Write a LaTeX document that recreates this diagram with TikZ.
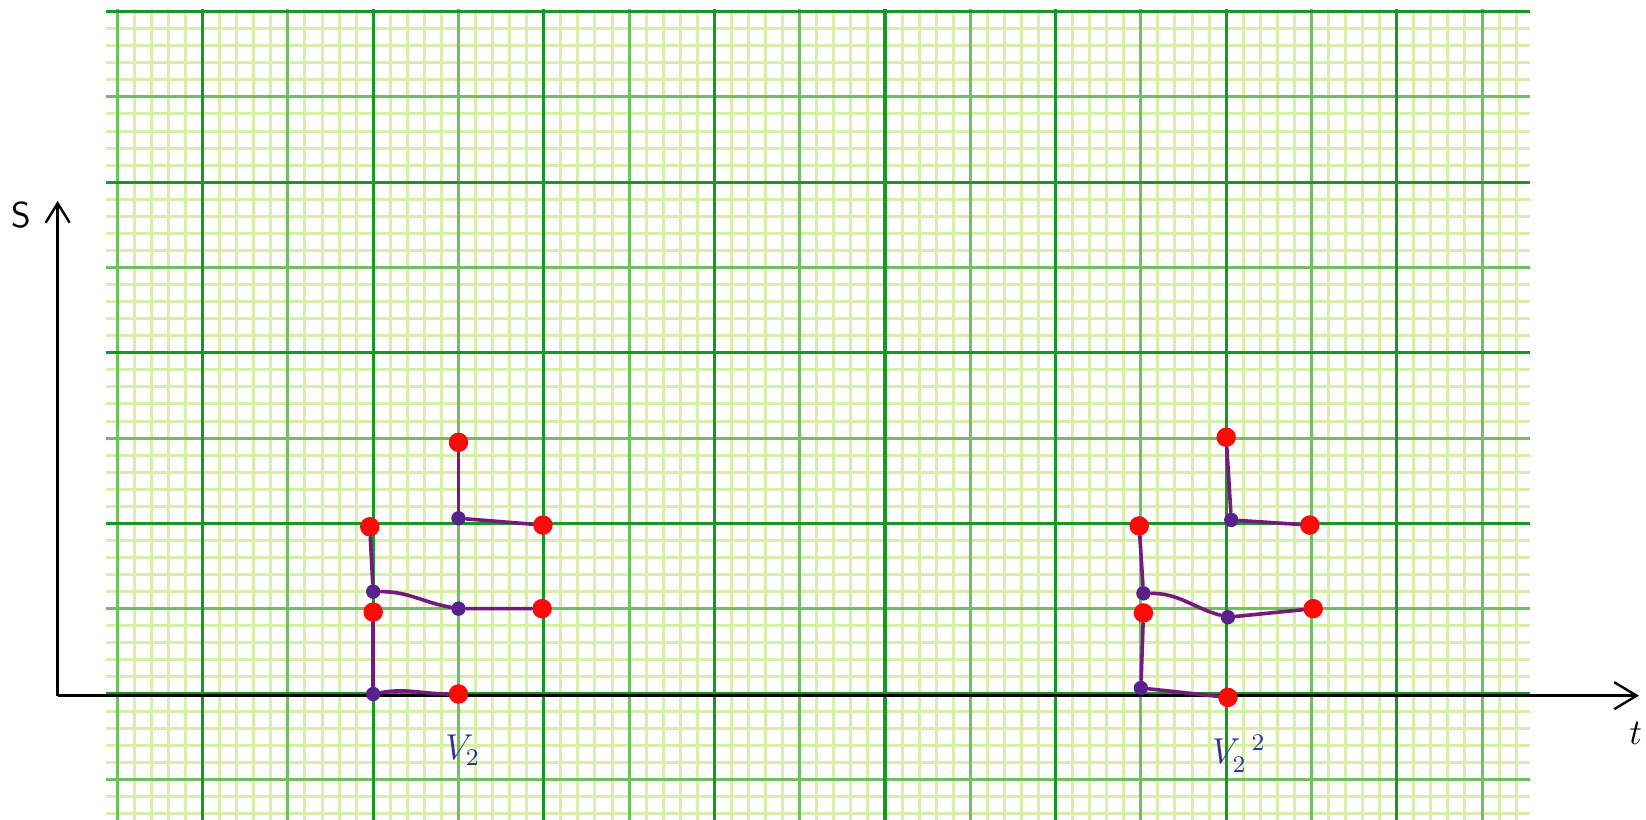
\documentclass[tikz,border=0pt]{standalone}
\usetikzlibrary{arrows.meta}

\definecolor{gridminor}{RGB}{214,240,170}
\definecolor{gridmid}{RGB}{112,192,96}
\definecolor{gridmajor}{RGB}{22,152,34}
\definecolor{penred}{RGB}{255,8,8}
\definecolor{penpurple}{RGB}{118,24,128}
\definecolor{pendot}{RGB}{88,34,140}
\definecolor{penblue}{RGB}{48,48,160}

\begin{document}
\begin{tikzpicture}[
    minor/.style={gridminor, line width=1pt},
    medium/.style={gridmid, line width=1pt},
    major/.style={gridmajor, line width=1.1pt},
    axisline/.style={black, line width=0.8pt},
    leaf/.style={circle, fill=penred, draw=none, minimum size=6.5pt, inner sep=0pt},
    joint/.style={circle, fill=pendot, draw=none, minimum size=4.8pt, inner sep=0pt},
    branch/.style={penpurple, line width=1.2pt, line cap=round},
    treelabel/.style={text=penblue, font=\large}
]
    \useasboundingbox (-2.375,-1.477) rectangle (16.922,8.136);

    % graph paper
    \begin{scope}
        \clip (-1.13,-1.5) rectangle (15.56,8.03);
        \draw[minor] (-1.2,-1.6) grid[step=0.2] (15.6,8.2);
        \draw[medium] (-1.2,-1.6) grid[step=1] (15.6,8.2);
        \draw[major] (-1.2,-1.6) grid[step=2] (15.6,8.2);
    \end{scope}

    % axes
    \coordinate (O) at (-1.699,-0.02);
    \coordinate (stop) at (-1.699,5.78);
    \coordinate (ttop) at (16.84,-0.02);
    \draw[axisline, -{Straight Barb[length=6.5pt, width=8pt]}] (O) -- (stop);
    \draw[axisline, -{Straight Barb[length=7.5pt, width=9pt]}] (O) -- (ttop);
    \node[font=\large\sffamily] (slabel) at (-2.13,5.62) {S};
    \node[font=\large] (tlabel) at (16.8,-0.46) {$t$};

    % first tree
    \node[joint] (L20) at (2,0) {};
    \node[leaf] (L30) at (3,0) {};
    \node[leaf] (L21) at (2,0.96) {};
    \node[joint] (L2m) at (2,1.2) {};
    \node[leaf] (L22) at (1.96,1.96) {};
    \node[joint] (L31) at (3,1) {};
    \node[leaf] (L41) at (3.98,1) {};
    \node[joint] (L32) at (3,2.06) {};
    \node[leaf] (L42) at (3.99,1.98) {};
    \node[leaf] (L33) at (3,2.95) {};
    \draw[branch] (L20) -- (L21);
    \draw[branch] (L20) to[out=10,in=180] (L30);
    \draw[branch] (L2m) -- (L22);
    \draw[branch] (L2m) to[out=0,in=170] (L31) -- (L41);
    \draw[branch] (L32) -- (L33);
    \draw[branch] (L32) -- (L42);
    \node[treelabel] (v1) at (3.05,-0.66) {$V_2$};

    % second tree
    \node[joint] (R20) at (11,0.07) {};
    \node[leaf] (R30) at (12.02,-0.04) {};
    \node[leaf] (R21) at (11.03,0.95) {};
    \node[joint] (R2m) at (11.03,1.18) {};
    \node[leaf] (R22) at (10.98,1.97) {};
    \node[joint] (R31) at (12.02,0.9) {};
    \node[leaf] (R41) at (13.02,1) {};
    \node[joint] (R32) at (12.06,2.04) {};
    \node[leaf] (R42) at (12.98,1.98) {};
    \node[leaf] (R33) at (12,3.01) {};
    \draw[branch] (R20) -- (R21);
    \draw[branch] (R20) -- (R30);
    \draw[branch] (R2m) -- (R22);
    \draw[branch] (R2m) to[out=0,in=165] (R31) -- (R41);
    \draw[branch] (R32) -- (R33);
    \draw[branch] (R32) -- (R42);
    \node[treelabel] (v2) at (12.15,-0.7) {$V_2^{\;\,2}$};
\end{tikzpicture}
\end{document}
